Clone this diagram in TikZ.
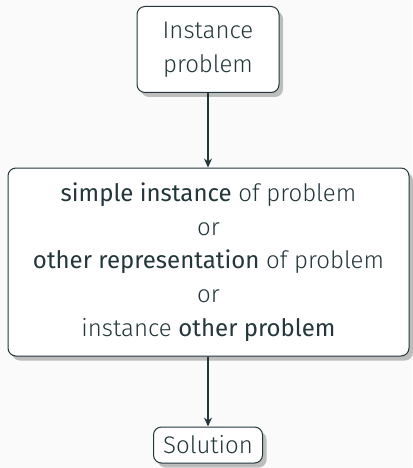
\documentclass[tikz,border=0pt]{standalone}
\usepackage{fontspec}
\IfFontExistsTF{Fira Sans Light}{\setmainfont{Fira Sans Light}[BoldFont={Fira Sans}]}{\setmainfont{Fira Sans}}
\usetikzlibrary{arrows.meta,shadows}
\definecolor{darkteal}{HTML}{23373B}
\definecolor{paper}{HTML}{FAFAFA}

\begin{document}
\begin{tikzpicture}[x=1pt,y=-1pt,>={Stealth[length=9pt,width=8pt,inset=3pt]},
  blockbox/.style={draw=darkteal,line width=1pt,fill=white,rounded corners=8pt,align=center,
    text=darkteal,inner sep=0pt,drop shadow={shadow xshift=4pt,shadow yshift=-4.5pt,fill=black!26,opacity=1}},
  every node/.style={font=\fontsize{24}{33.6}\selectfont}]
\fill[paper] (0,0) rectangle (412,468);
\useasboundingbox (0,0) rectangle (412,468);
\node[blockbox,minimum width=142pt,minimum height=86pt] (inst) at (208,49.5) {Instance\\problem};
\node[blockbox,minimum width=401pt,minimum height=188pt] (alt) at (208.5,262)
  {\textbf{simple instance} of problem\\or\\\textbf{other representation} of problem\\or\\instance \textbf{other problem}};
\node[blockbox,minimum width=109pt,minimum height=36pt] (sol) at (208,445) {Solution};
\draw[->,darkteal,line width=1.2pt] (inst.south) -- (inst.south |- alt.north);
\draw[->,darkteal,line width=1.2pt] (sol.north |- alt.south) -- (sol.north);
\end{tikzpicture}
\end{document}
